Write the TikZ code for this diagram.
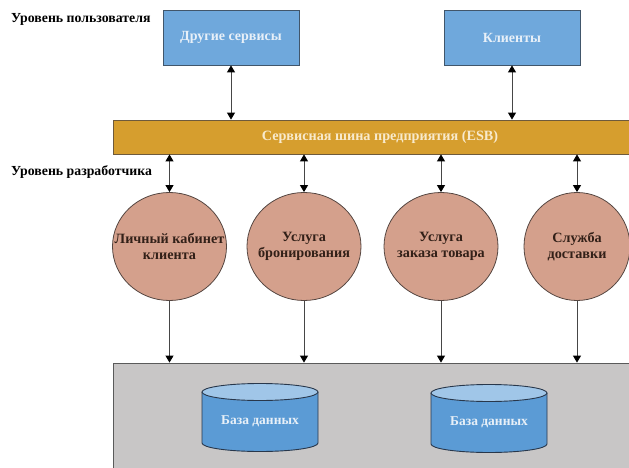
\documentclass[tikz,border=0pt]{standalone}
\usepackage{fontspec}
\setmainfont{Liberation Serif}
\usetikzlibrary{arrows.meta,shapes.geometric}
\definecolor{boxblue}{RGB}{111,168,220}
\definecolor{boxedge}{RGB}{65,86,107}
\definecolor{boxtext}{RGB}{232,240,248}
\definecolor{busgold}{RGB}{214,158,46}
\definecolor{busedge}{RGB}{110,90,60}
\definecolor{bustext}{RGB}{248,234,205}
\definecolor{svcfill}{RGB}{212,160,140}
\definecolor{svcedge}{RGB}{85,70,65}
\definecolor{svctext}{RGB}{50,32,24}
\definecolor{storefill}{RGB}{200,198,198}
\definecolor{storeedge}{RGB}{90,90,90}
\definecolor{dbbody}{RGB}{91,155,213}
\definecolor{dbtop}{RGB}{160,198,232}
\definecolor{dbedge}{RGB}{40,55,75}
\definecolor{dbtext}{RGB}{232,240,248}
\definecolor{wire}{RGB}{70,70,70}
\begin{document}
\begin{tikzpicture}[x=1pt,y=-1pt,
  levelname/.style={anchor=west,inner sep=0,font=\bfseries\fontsize{13.8}{15}\selectfont},
  clientbox/.style={draw=boxedge,line width=0.8pt,fill=boxblue,minimum width=136,minimum height=55,
    inner sep=0,text=boxtext,font=\bfseries\fontsize{14}{15}\selectfont},
  busbar/.style={draw=busedge,line width=0.8pt,fill=busgold,minimum width=534,minimum height=34,
    inner sep=0,text=bustext,font=\bfseries\fontsize{14.2}{15}\selectfont},
  service/.style={ellipse,draw=svcedge,line width=0.8pt,fill=svcfill,minimum height=108,
    inner sep=-25pt,align=center,text=svctext,font=\bfseries\fontsize{14.2}{15.5}\selectfont},
  storage/.style={draw=storeedge,line width=0.8pt,fill=storefill,minimum width=540,minimum height=120,inner sep=0},
  dblabel/.style={inner sep=0,text=dbtext,font=\bfseries\fontsize{13.5}{15}\selectfont},
  both/.style={draw=wire,line width=0.9pt,{Triangle[width=8pt,length=7pt,black]}-{Triangle[width=8pt,length=7pt,black]}},
  down/.style={draw=wire,line width=0.9pt,-{Triangle[width=8pt,length=7pt,black]}},
]
\clip (0,0) rectangle (629,468);
\fill[white] (0,0) rectangle (629,468);

% user level
\node[levelname] (userlvl) at (11,19) {Уровень пользователя};
\node[clientbox] (other) at (231,37.5) {Другие сервисы};
\node[clientbox] (clients) at (512,37.5) {Клиенты};

% enterprise service bus
\node[busbar] (esb) at (380,137) {Сервисная шина предприятия (ESB)};

% developer level
\node[levelname] (devlvl) at (11,172) {Уровень разработчика};
\node[service,minimum width=114] (c1) at (169.5,246.5) {Личный кабинет\\клиента};
\node[service,minimum width=114] (c2) at (304,246.5) {Услуга\\бронирования};
\node[service,minimum width=114] (c3) at (441,246.5) {Услуга\\заказа товара};
\node[service,minimum width=106] (c4) at (577,246.5) {Служба\\доставки};

% data storage
\node[storage] (store) at (383,423) {};

\newcommand{\database}[3]{%
  \fill[dbbody] (#1-58,#2) -- (#1-58,#2+51) arc[start angle=180,end angle=0,x radius=58,y radius=8.5] -- (#1+58,#2) -- cycle;
  \draw[dbedge,line width=0.9pt] (#1-58,#2) -- (#1-58,#2+51) arc[start angle=180,end angle=0,x radius=58,y radius=8.5] -- (#1+58,#2);
  \filldraw[fill=dbtop,draw=dbedge,line width=0.9pt] (#1,#2) ellipse[x radius=58,y radius=8.5];
  \node[dblabel] (#3) at (#1,#2+29) {База данных};
}
\database{260}{392}{db1}
\database{489}{393}{db2}

% connectors
\draw[both] (other.south) -- (other.south |- esb.north);
\draw[both] (clients.south) -- (clients.south |- esb.north);
\foreach \s in {c1,c2,c3,c4}{
  \draw[both] (\s.north |- esb.south) -- (\s.north);
  \draw[down] (\s.south) -- (\s.south |- store.north);
}
\end{tikzpicture}
\end{document}
